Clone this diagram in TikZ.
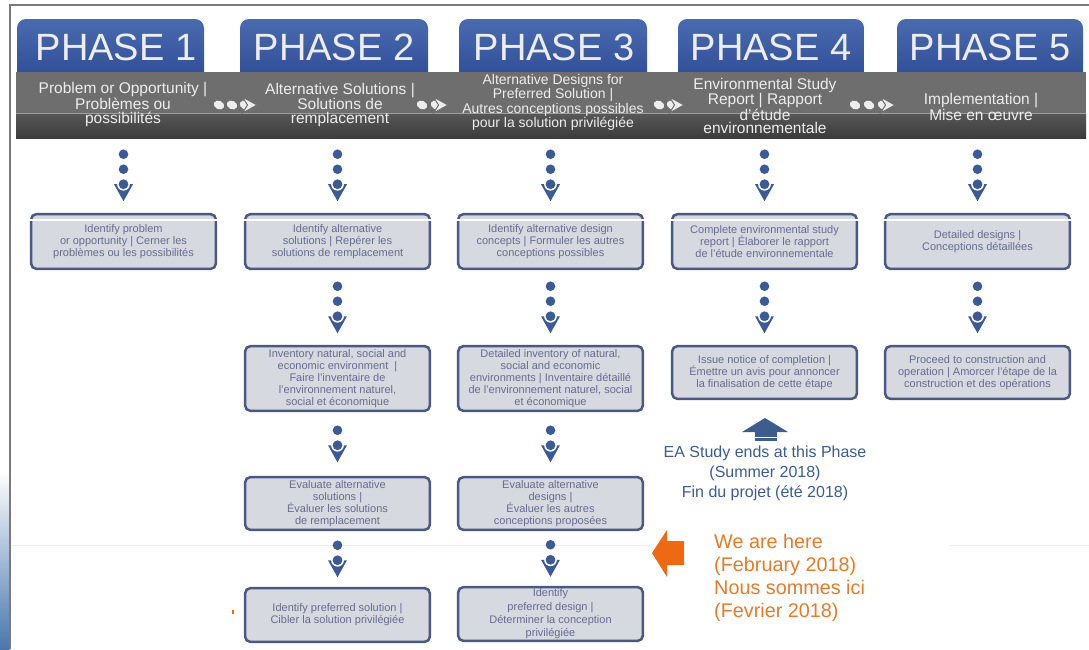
\documentclass[tikz,border=0pt]{standalone}
\usepackage{fontspec}
\setmainfont{Liberation Sans}
\usetikzlibrary{calc}
\definecolor{tabtop}{HTML}{4A6AB0}
\definecolor{tabbot}{HTML}{2B4A93}
\definecolor{bandA}{HTML}{6E6E6E}
\definecolor{bandB}{HTML}{585858}
\definecolor{bandC}{HTML}{3C3C3C}
\definecolor{hdrtxt}{HTML}{EDEDED}
\definecolor{boxfill}{HTML}{D7D9E0}
\definecolor{boxline}{HTML}{4B5882}
\definecolor{boxtxt}{HTML}{656C8E}
\definecolor{chaincol}{HTML}{3D5A98}
\definecolor{eablue}{HTML}{3F5C8E}
\definecolor{orgarrow}{HTML}{EE6A12}
\definecolor{orgtxt}{HTML}{E57B28}
\definecolor{framegray}{HTML}{7A7A7A}
\definecolor{stripblue}{HTML}{4A76AE}

\newcommand\vchain[3]{%
  \coordinate (m) at ($(#1)!0.5!(#2)$);
  \pgfmathsetmacro\chainc{(15*#3-12.5)/2}
  \foreach \k in {1,...,#3}{\fill[chaincol] ($(m)+(0,\chainc-15*\k)$) circle[radius=4.8pt];}
  \fill[chaincol] ($(m)+(-9.5,\chainc)$) -- ($(m)+(9.5,\chainc)$) -- ($(m)+(0,\chainc+17)$) -- cycle;
  \fill[white] ($(m)+(0,\chainc)$) circle[radius=6.4pt];
  \fill[chaincol] ($(m)+(0,\chainc)$) circle[radius=4.9pt];
}
\newcommand\hdot[1]{\fill[hdrtxt,rotate around={-25:(#1,105)}] (#1,105) ellipse (5.4pt and 4.2pt);}
\newcommand\hchev[1]{\hdot{#1}\filldraw[fill=hdrtxt,draw=bandA,line width=1pt] (#1-2.5,97) -- (#1+12,105) -- (#1-2.5,113) -- (#1+2.5,105) -- cycle;}

\begin{document}
\begin{tikzpicture}[x=1pt,y=-1pt,
  phasetxt/.style={text=hdrtxt, font=\fontsize{38}{40}\selectfont, inner sep=0pt},
  hdrlabel/.style={text=hdrtxt, align=center, inner sep=0pt, font=\fontsize{15.5}{13.5}\selectfont},
  stepbox/.style={draw=boxline, line width=2.5pt, fill=boxfill, rounded corners=5pt, text=boxtxt, align=center, minimum width=184.6pt, inner sep=1pt, font=\fontsize{11}{12}\selectfont},
  tabshape/.style={top color=tabtop, bottom color=tabbot, rounded corners=9pt},
  gloss/.style={white, line width=1.1pt}]
\useasboundingbox (0,0) rectangle (1089,649);
\fill[white] (0,0) rectangle (1089,649);
% frame
\shade[top color=white, bottom color=stripblue] (0,470) rectangle (9.5,649);
\draw[framegray, line width=1.2pt] (10,649) -- (10,5) -- (1089,5);
\draw[black!7, line width=0.6pt] (11,545) -- (650,545);
\draw[black!7, line width=0.6pt] (950,545) -- (1089,545);
% tabs
\shade[tabshape] (17,19) rectangle (204,86);
\shade[tabshape] (240,19) rectangle (428,86);
\shade[tabshape] (459,19) rectangle (647,86);
\shade[tabshape] (678,19) rectangle (864,86);
\shade[tabshape] (897,19) rectangle (1083,86);
% band
\fill[bandA] (16,72) rectangle (1086,113);
\shade[top color=bandB, bottom color=bandC] (16,113) rectangle (1086,138);
\draw[black!38, line width=0.6pt] (16,113) -- (1086,113);
% phase titles
\node[phasetxt] (t1) at (116,47) {PHASE 1};
\node[phasetxt] (t2) at (334,47) {PHASE 2};
\node[phasetxt] (t3) at (554,47) {PHASE 3};
\node[phasetxt] (t4) at (771,47) {PHASE 4};
\node[phasetxt] (t5) at (990,47) {PHASE 5};
% header labels
\node[hdrlabel] (l1) at (123,104.5) {Problem or Opportunity |\\Problèmes ou\\possibilités};
\node[hdrlabel] (l2) at (340,104.5) {Alternative Solutions |\\Solutions de\\remplacement};
\node[hdrlabel, font=\fontsize{14}{11.5}\selectfont] (l3) at (553,102.5) {Alternative Designs for\\Preferred Solution |\\Autres conceptions possibles\\pour la solution privilégiée};
\node[hdrlabel, font=\fontsize{15.5}{13.5}\selectfont] (l4) at (765,106) {Environmental Study\\Report | Rapport\\d'étude\\environnementale};
\node[hdrlabel] (l5) at (981,107) {Implementation |\\Mise en œuvre};
% header chevrons
\hdot{219}\hdot{232}\hchev{245}
\hdot{422}\hchev{436}
\hdot{659}\hchev{672}
\hdot{855}\hdot{869}\hchev{883}
% boxes
\node[stepbox, minimum height=54.6pt] (b11) at (123.5,241.5) {Identify problem\\or opportunity | Cerner les\\problèmes ou les possibilités};
\node[stepbox, minimum height=54.6pt] (b21) at (337.5,241.5) {Identify alternative\\solutions | Repérer les\\solutions de remplacement};
\node[stepbox, minimum height=54.6pt] (b31) at (550.5,241.5) {Identify alternative design\\concepts | Formuler les autres\\conceptions possibles};
\node[stepbox, minimum height=54.6pt] (b41) at (764.5,241.5) {Complete environmental study\\report | Élaborer le rapport\\de l'étude environnementale};
\node[stepbox, minimum height=54.6pt] (b51) at (977.5,241.5) {Detailed designs |\\Conceptions détaillées};
\node[stepbox, minimum height=64.6pt] (b22) at (337.5,378.5) {Inventory natural, social and\\economic environment~~|\\Faire l'inventaire de\\l'environnement naturel,\\social et économique};
\node[stepbox, minimum height=64.6pt] (b32) at (550.5,378.5) {Detailed inventory of natural,\\social and economic\\environments | Inventaire détaillé\\de l'environnement naturel, social\\et économique};
\node[stepbox, minimum height=52.6pt] (b42) at (764.5,372.5) {Issue notice of completion |\\Émettre un avis pour annoncer\\la finalisation de cette étape};
\node[stepbox, minimum height=52.6pt] (b52) at (977.5,372.5) {Proceed to construction and\\operation | Amorcer l'étape de la\\construction et des opérations};
\node[stepbox, minimum height=52.6pt] (b23) at (337.5,503.5) {Evaluate alternative\\solutions |\\Évaluer les solutions\\de remplacement};
\node[stepbox, minimum height=52.6pt] (b33) at (550.5,503.5) {Evaluate alternative\\designs |\\Évaluer les autres\\conceptions proposées};
\node[stepbox, minimum height=53.6pt] (b24) at (337.5,615) {Identify preferred solution |\\Cibler la solution privilégiée};
\node[stepbox, minimum height=53.6pt, inner sep=0pt, font=\fontsize{11}{13.4}\selectfont] (b34) at (550.5,614) {Identify\\preferred design |\\Déterminer la conception\\privilégiée};
% gloss line on first row
\foreach \b in {b11,b21,b31,b41,b51}{\draw[gloss] ($(\b.north west)+(-1.5,7)$) -- ($(\b.north east)+(1.5,7)$);}
% chains
\coordinate (h1) at (123.5,138);
\coordinate (h2) at (337.5,138);
\coordinate (h3) at (550.5,138);
\coordinate (h4) at (764.5,138);
\coordinate (h5) at (977.5,138);
\vchain{h1}{b11.north}{2}
\vchain{h2}{b21.north}{2}
\vchain{h3}{b31.north}{2}
\vchain{h4}{b41.north}{2}
\vchain{h5}{b51.north}{2}
\vchain{b21.south}{b22.north}{2}
\vchain{b31.south}{b32.north}{2}
\vchain{b41.south}{b42.north}{2}
\vchain{b51.south}{b52.north}{2}
\vchain{b22.south}{b23.north}{1}
\vchain{b32.south}{b33.north}{1}
\vchain{b23.south}{b24.north}{1}
\vchain{b33.south}{b34.north}{1}
% up arrow
\fill[eablue] (742,432) -- (765,418) -- (788,432) -- cycle;
\fill[eablue] (755,432) rectangle (777,441);
\draw[white, line width=0.9pt] (754,437.3) -- (778,437.3);
\node[text=eablue, align=center, inner sep=0pt, font=\fontsize{16}{20}\selectfont] (ea) at (765,473) {EA Study ends at this Phase\\(Summer 2018)\\Fin du projet (été 2018)};
% orange arrow
\fill[orgarrow] (652,553) -- (667,530) -- (667,541) -- (684,541) -- (684,565) -- (667,565) -- (667,577) -- cycle;
\fill[orgarrow] (232,610) rectangle (234,614);
\node[text=orgtxt, align=left, anchor=west, inner sep=0pt, font=\fontsize{19.8}{23}\selectfont] (here) at (714,577.5) {We are here\\(February 2018)\\Nous sommes ici\\(Fevrier 2018)};
\end{tikzpicture}
\end{document}
